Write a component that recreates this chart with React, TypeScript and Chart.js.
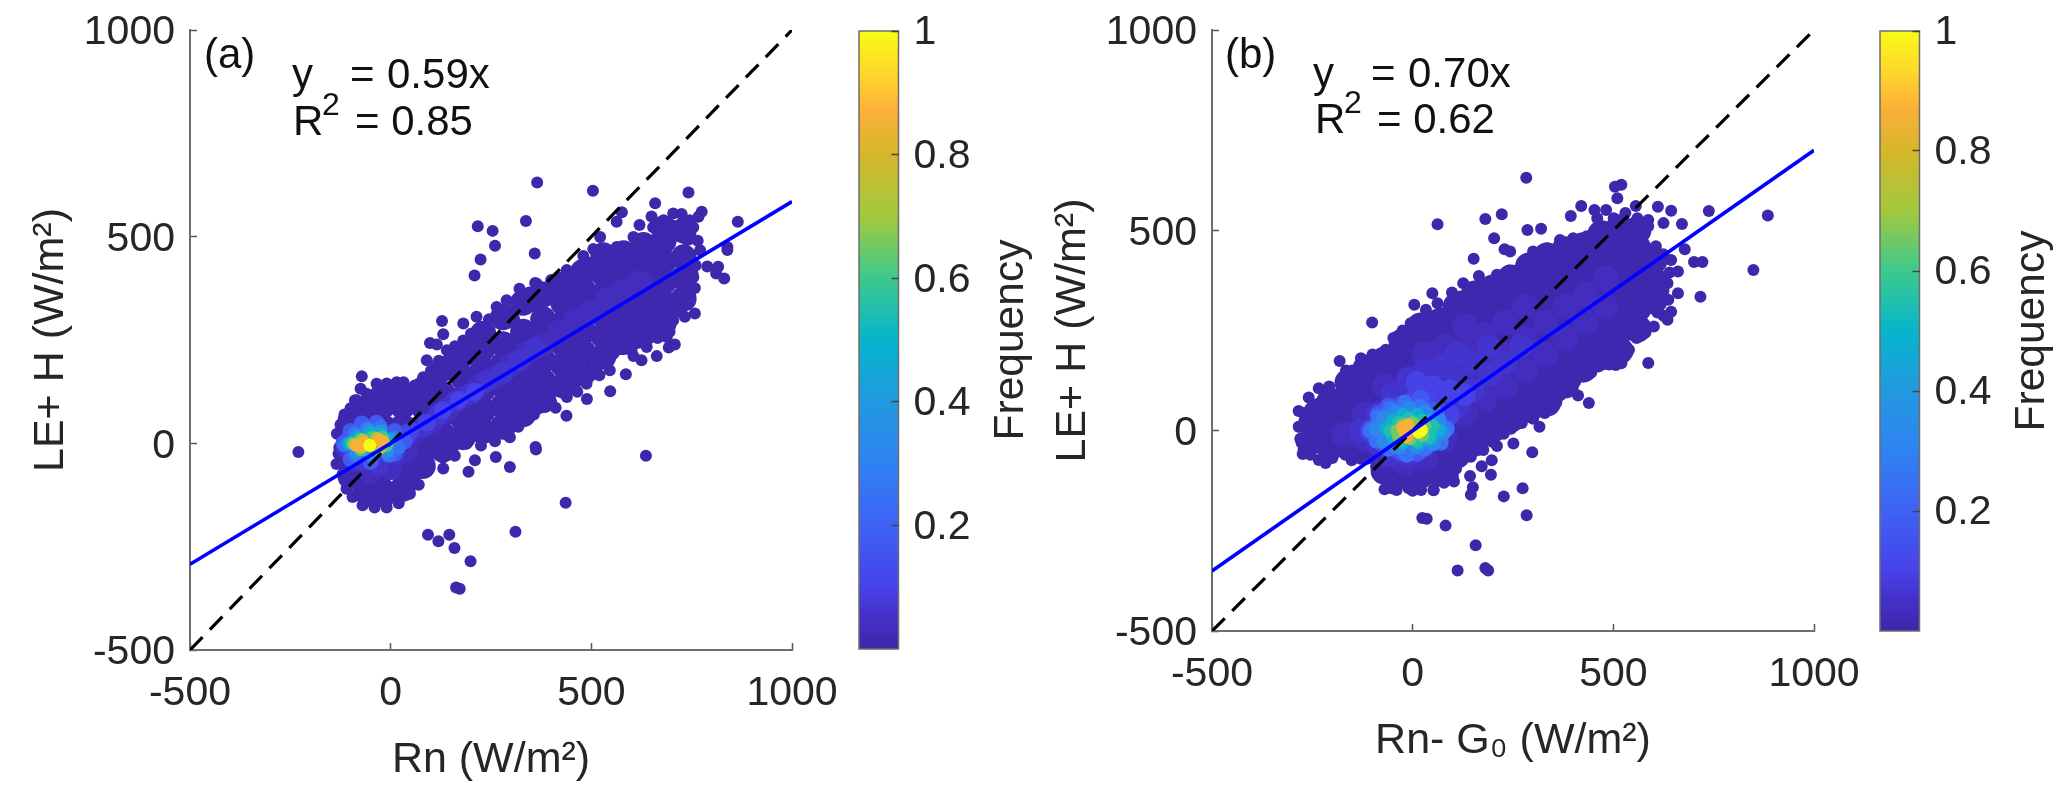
import React, { useEffect, useRef } from "react";
import { Chart, registerables } from "chart.js";
Chart.register(...registerables);

type P = [number, number];

const axisTicks = [-500, 0, 500, 1000];
const colorbarTicks = [0.2, 0.4, 0.6, 0.8, 1];
const lineEnds = [-500, 1000];
const slopeA = 0.585;
const slopeB = 0.7;

const parulaStops: [number, string][] = [
  [0, "#3e26a8"], [0.05, "#4330c8"], [0.1, "#4742e8"], [0.2, "#3f62f5"], [0.3, "#2f82f2"],
  [0.4, "#2299e0"], [0.5, "#06b5cc"], [0.6, "#3dc98c"], [0.7, "#a2c93e"], [0.8, "#d6b62a"],
  [0.87, "#fbb03a"], [0.93, "#fed62c"], [1, "#f9fb15"],
];

// ---- panel (a) ----
const outliersA: P[] = [
  [365,631],[504,611],[742,607],[217,525],[254,514],[337,538],[260,478],[224,445],[209,406],[359,459],
  [659,581],[865,536],[839,475],[839,468],[775,560],[767,548],[576,559],[563,536],[620,528],[650,549],
  [480,453],[439,419],[360,388],[321,374],[128,296],[181,290],[131,264],[98,243],[115,239],[733,306],
  [758,314],[708,239],[693,232],[663,211],[605,211],[625,201],[586,167],[547,126],[489,107],[438,67],
  [411,86],[384,88],[357,70],[816,427],[789,428],[811,411],[831,399],[758,376],[361,-9],[636,-30],
  [-230,-21],[-72,162],[-75,132],[-89,104],[362,-15],[262,-33],[297,-57],[210,-41],[194,-69],[131,-61],
  [93,-221],[119,-237],[146,-221],[159,-253],[199,-285],[163,-349],[172,-352],[311,-214],[436,-144],
];
const edgeA: P[] = [
  [-134,23],[-128,-10],[-125,45],[-115,70],[-100,85],[-85,104],[-60,120],[-35,144],[-10,145],[15,148],
  [32,148],[60,140],[81,160],[90,201],[100,175],[120,200],[140,225],[160,235],[181,249],[200,265],
  [214,306],[225,280],[245,300],[264,330],[289,346],[300,320],[322,350],[345,365],[364,386],[400,395],
  [439,419],[460,410],[480,430],[505,470],[522,499],[540,460],[563,475],[585,450],[605,499],[612,470],
  [630,490],[654,523],[680,540],[704,556],[725,555],[745,540],[754,523],[765,490],[771,467],[760,430],
  [754,402],[748,370],[738,338],[720,320],[704,298],[695,270],[688,257],[665,255],[638,233],[600,225],
  [555,217],[546,177],[520,165],[488,144],[465,125],[439,112],[400,100],[370,85],[339,64],[318,40],
  [297,15],[260,5],[225,-5],[189,-1],[160,-30],[130,-35],[98,-25],[85,-60],[70,-100],[48,-122],
  [20,-145],[-10,-155],[-40,-155],[-70,-150],[-95,-130],[-110,-110],[-120,-75],[-135,-50],[-130,-25],
];
const bodyA: P[] = [
  [-100,-80],[-100,-30],[-100,20],[-100,55],[-60,-110],[-60,-60],[-60,-10],[-60,40],[-60,85],
  [-20,-115],[-20,-60],[-20,-10],[-20,40],[-20,90],[-20,115],[30,-110],[30,-60],[30,-10],[30,40],[30,90],[30,118],
  [80,-55],[80,-10],[80,40],[80,90],[80,130],[130,-15],[130,20],[130,70],[130,120],[130,180],
  [180,15],[180,60],[180,110],[180,160],[180,215],[230,30],[230,80],[230,130],[230,180],[230,230],[230,265],
  [280,40],[280,90],[280,140],[280,190],[280,240],[280,305],[330,70],[330,120],[330,170],[330,220],[330,270],[330,340],
  [380,105],[380,150],[380,200],[380,250],[380,300],[380,360],[430,140],[430,190],[430,240],[430,290],[430,340],[430,385],
  [480,170],[480,220],[480,270],[480,320],[480,370],[480,415],[530,210],[530,260],[530,310],[530,360],[530,410],[530,455],
  [580,245],[580,290],[580,340],[580,390],[580,440],[580,460],[630,265],[630,310],[630,360],[630,410],[630,460],[630,480],
  [680,290],[680,340],[680,390],[680,440],[680,490],[680,520],[730,350],[730,400],[730,450],[730,515],
];
const fillA: P[] = [
  [60,-70],[100,-10],[120,0],[150,-5],[175,20],[205,25],[250,30],[275,35],[310,60],[345,85],[385,115],[415,135],
  [455,150],[505,175],[525,200],[570,235],[615,250],[655,270],[690,290],[710,325],[735,365],[745,410],
  [105,150],[150,200],[205,240],[240,270],[300,300],[350,340],[410,375],[455,390],[500,430],[550,440],[590,440],
  [640,480],[700,520],[740,500],[-75,-120],[-45,-135],[-15,-135],[20,-125],[50,-90],[-110,-50],
];
const a04: P[] = [[-90,-40],[-50,-70],[0,-60],[40,-20],[60,30],[100,50],[140,80],[180,110],[220,140],[260,160],[300,190],[340,220],[380,240],[420,270],[460,300],[500,320],[540,350],[580,370],[620,390]];
const a07: P[] = [[-110,-10],[-70,-40],[-30,-50],[10,-25],[40,20],[80,40],[120,70],[160,100],[200,120],[240,150],[280,170],[320,200],[360,230]];
const a12: P[] = [[-105,10],[-90,-25],[-50,-35],[-15,-20],[15,5],[50,30],[90,50],[130,80],[170,105],[210,125]];
const a18: P[] = [[-118,0],[-100,30],[-72,48],[-35,50],[10,30],[35,5],[10,-25],[-50,-45],[-100,-38]];
const a25: P[] = [[-115,-5],[-90,25],[-60,38],[-25,40],[10,15],[20,-10],[-5,-30],[-50,-30],[-90,-30]];
const a35: P[] = [[-105,0],[-85,18],[-55,32],[-25,30],[0,10],[-10,-20],[-50,-22],[-85,-22]];
const a45: P[] = [[-100,0],[-80,12],[-50,25],[-25,22],[-5,5],[-30,-15],[-70,-15]];
const a55: P[] = [[-95,0],[-75,10],[-45,15],[-20,15],[-10,-5],[-30,-15],[-75,-15]];
const a70: P[] = [[-90,-2],[-70,8],[-35,12],[-20,5],[-75,-10],[-25,-10]];
const a85: P[] = [[-85,-5],[-72,-8],[-28,8],[-20,3],[-65,2]];
const a100: P[] = [[-52,-5]];

// ---- panel (b) ----
const outliersB: P[] = [
  [283,631],[504,609],[520,614],[510,580],[62,515],[181,528],[222,540],[203,480],[286,501],[320,504],
  [229,453],[243,447],[152,429],[-101,270],[4,314],[49,343],[62,318],[98,345],[126,368],[165,386],
  [-182,174],[-166,150],[-234,106],[-208,110],[-259,83],[-249,64],[-284,49],[-284,10],[-277,-30],[-274,-58],
  [-217,-81],[-152,-74],[-70,-146],[-40,-148],[-10,-144],[21,-148],[52,-149],[103,-127],[143,-113],[172,-89],
  [195,-110],[197,-74],[150,-141],[145,-160],[227,-164],[274,-144],[284,-211],[24,-218],[35,-220],[82,-237],
  [157,-286],[112,-349],[181,-343],[188,-349],[298,-54],[251,-32],[210,-38],[227,-8],[316,10],[412,88],
  [439,69],[367,88],[358,71],[587,169],[539,202],[506,164],[644,297],[625,287],[635,277],[717,334],
  [637,327],[661,343],[661,397],[701,421],[722,421],[849,401],[885,537],[738,548],[678,453],[671,516],
  [644,549],[611,559],[625,518],[587,526],[556,561],[482,551],[453,551],[460,530],[420,561],[394,536],
];
const edgeB: P[] = [
  [-234,68],[-200,90],[-168,119],[-150,150],[-129,181],[-100,190],[-67,202],[-48,231],[-25,250],[-5,268],
  [33,302],[71,293],[95,320],[119,335],[145,340],[167,352],[190,370],[210,389],[240,400],[272,414],
  [300,447],[335,455],[367,476],[400,480],[434,485],[463,505],[501,530],[530,543],[560,530],[587,510],
  [606,460],[625,440],[644,426],[640,395],[635,368],[625,350],[616,335],[610,295],[601,260],[580,245],
  [558,231],[535,195],[520,168],[490,165],[463,160],[445,145],[425,135],[405,122],[386,110],[355,75],
  [329,44],[300,30],[272,19],[245,5],[224,-6],[200,-28],[176,-48],[145,-65],[119,-77],[108,-95],
  [100,-114],[78,-130],[52,-148],[0,-150],[-53,-144],[-72,-115],[-91,-89],[-130,-70],[-168,-60],[-200,-68],
  [-234,-73],[-255,-60],[-272,-48],[-280,-20],[-282,10],[-272,44],[-255,55],
];
const bodyB: P[] = [
  [-250,-25],[-250,20],[-205,-40],[-205,5],[-205,50],[-205,72],[-160,-35],[-160,15],[-160,65],[-160,120],
  [-115,-50],[-115,0],[-115,50],[-115,100],[-115,155],[-70,-100],[-70,-50],[-70,0],[-70,50],[-70,100],[-70,150],[-70,175],
  [-25,-110],[-25,-60],[-25,-10],[-25,40],[-25,90],[-25,140],[-25,190],[-25,220],[20,-110],[20,-60],[20,-10],[20,40],[20,90],[20,140],[20,190],[20,240],[20,260],
  [65,-105],[65,-50],[65,0],[65,50],[65,100],[65,150],[65,200],[65,250],[65,270],[110,-60],[110,-10],[110,40],[110,90],[110,140],[110,190],[110,240],[110,290],[110,310],
  [155,-30],[155,20],[155,70],[155,120],[155,170],[155,220],[155,270],[155,320],[155,340],[200,5],[200,55],[200,105],[200,155],[200,205],[200,255],[200,305],[200,355],
  [245,30],[245,80],[245,130],[245,180],[245,230],[245,280],[245,330],[245,380],[290,55],[290,105],[290,155],[290,205],[290,255],[290,305],[290,355],[290,410],
  [335,70],[335,120],[335,170],[335,220],[335,270],[335,320],[335,370],[335,435],[380,115],[380,165],[380,215],[380,265],[380,315],[380,365],[380,415],[380,450],
  [425,155],[425,205],[425,255],[425,305],[425,355],[425,405],[425,460],[470,185],[470,235],[470,285],[470,335],[470,385],[470,435],[470,490],
  [515,200],[515,250],[515,300],[515,350],[515,400],[515,450],[515,505],[560,255],[560,305],[560,355],[560,405],[560,455],[560,500],[600,325],[600,375],[600,425],
];
const b04: P[] = [[-170,-10],[-120,-20],[-120,40],[-70,-60],[-70,50],[-70,110],[-20,-80],[-20,30],[-20,110],[30,-70],[30,50],[30,130],[30,190],[80,-20],[80,60],[80,140],[80,210],[130,40],[130,120],[130,200],[130,260],[180,80],[180,160],[180,240],[230,110],[230,190],[230,270],[280,150],[280,230],[280,310],[330,190],[330,270],[380,230],[380,310],[430,270],[430,340],[480,310],[480,380]];
const b07: P[] = [[-130,0],[-90,-30],[-90,40],[-50,-60],[-50,30],[-50,90],[-10,-60],[-10,70],[-10,130],[30,-40],[30,80],[30,150],[70,0],[70,90],[70,160],[110,60],[110,130],[110,190],[150,100],[150,170],[190,140],[190,210],[230,170],[270,210]];
const b12: P[] = [[-105,0],[-80,40],[-70,-30],[-30,-50],[-30,60],[10,-50],[10,80],[10,120],[50,-20],[50,60],[50,110],[90,40],[90,100],[130,90]];
const b18: P[] = [[-100,5],[-85,40],[-60,60],[-70,-30],[-30,-50],[10,-55],[50,-30],[70,10],[50,50],[20,80]];
const b25: P[] = [[-105,0],[-85,35],[-55,55],[-20,70],[20,60],[60,40],[85,5],[70,-30],[30,-45],[-15,-60],[-60,-45],[-90,-25]];
const b35: P[] = [[-90,5],[-70,30],[-45,45],[-10,55],[30,45],[65,25],[75,-5],[50,-30],[10,-40],[-35,-40],[-70,-25]];
const b45: P[] = [[-65,5],[-50,25],[-25,40],[10,40],[45,25],[65,0],[45,-20],[15,-30],[-25,-30],[-50,-15]];
const b55: P[] = [[-55,0],[-35,20],[-10,30],[25,25],[50,10],[40,-15],[10,-25],[-30,-25]];
const b70: P[] = [[-40,0],[-25,15],[0,20],[30,12],[-5,-20],[-35,-15],[25,-12]];
const b85: P[] = [[-25,8],[-20,-3],[-15,-16],[-12,15]];
const b100: P[] = [[15,-4],[22,2]];

const FONT = '"Liberation Sans", Arial, sans-serif';
const TICK_COLOR = "#262626";
const AXIS_COLOR = "#6e6e6e";

function hex(c: string) { return [1, 3, 5].map((i) => parseInt(c.slice(i, i + 2), 16)); }
function parula(f: number) {
  for (let i = 1; i < parulaStops.length; i++) {
    const [f1, c1] = parulaStops[i];
    if (f <= f1) {
      const [f0, c0] = parulaStops[i - 1];
      const t = (f - f0) / (f1 - f0);
      const a = hex(c0), b = hex(c1);
      return `rgb(${a.map((v, k) => Math.round(v + (b[k] - v) * t)).join(",")})`;
    }
  }
  return parulaStops[parulaStops.length - 1][1];
}

type Txt = { s: string; x: number; y: number; size?: number; ws?: number };

function layer(points: P[], f: number, radius: number, order: number) {
  return {
    type: "scatter" as const,
    data: points.map(([x, y]) => ({ x, y })),
    backgroundColor: parula(f),
    borderWidth: 0,
    pointRadius: radius,
    pointHoverRadius: radius,
    order,
  };
}

function lineSet(slope: number, color: string, width: number, dash: number[], order: number) {
  return {
    type: "line" as const,
    data: lineEnds.map((x) => ({ x, y: slope * x })),
    borderColor: color,
    borderWidth: width,
    borderDash: dash,
    pointRadius: 0,
    order,
  };
}

function makeMain(canvas: HTMLCanvasElement, layers: any[], slope: number, xTitle: string, axisHeight: number, titlePad: number, texts: Txt[]) {
  return new Chart(canvas, {
    type: "scatter",
    data: {
      datasets: [
        ...layers,
        lineSet(1, "#000000", 3.2, [18, 10.5], 1),
        lineSet(slope, "#0000ff", 3.6, [], 0),
      ],
    },
    options: {
      animation: false,
      responsive: false,
      devicePixelRatio: 1,
      layout: { padding: { left: 0, top: 30, right: 58, bottom: 0 } },
      plugins: { legend: { display: false }, tooltip: { enabled: false } },
      scales: {
        x: {
          type: "linear",
          min: -500,
          max: 1000,
          afterBuildTicks: (a: any) => { a.ticks = axisTicks.map((value) => ({ value })); },
          afterFit: (a: any) => { a.height = axisHeight; a.paddingLeft = 0; a.paddingRight = 0; },
          border: { color: AXIS_COLOR, width: 2 },
          grid: { drawOnChartArea: false, drawTicks: true, tickLength: -7, tickColor: "#555555", tickWidth: 1.5 },
          ticks: { color: TICK_COLOR, font: { family: FONT, size: 41 }, padding: 26, maxRotation: 0, autoSkip: false, callback: (v: any) => String(v) },
          title: { display: true, text: xTitle, color: TICK_COLOR, font: { family: FONT, size: 43 }, padding: titlePad },
        },
        y: {
          type: "linear",
          min: -500,
          max: 1000,
          afterBuildTicks: (a: any) => { a.ticks = axisTicks.map((value) => ({ value })); },
          afterFit: (a: any) => { a.width = 190; a.paddingTop = 0; a.paddingBottom = 0; },
          border: { color: AXIS_COLOR, width: 2 },
          grid: { drawOnChartArea: false, drawTicks: true, tickLength: -7, tickColor: "#555555", tickWidth: 1.5 },
          ticks: { color: TICK_COLOR, font: { family: FONT, size: 41 }, padding: 22, labelOffset: 3, autoSkip: false, callback: (v: any) => String(v) },
          title: { display: true, text: "LE+ H (W/m²)", color: TICK_COLOR, font: { family: FONT, size: 43 }, padding: 25 },
        },
      },
    },
    plugins: [{
      id: "notes",
      afterDraw(chart: any) {
        const ctx = chart.ctx;
        ctx.save();
        ctx.fillStyle = "#111111";
        ctx.textBaseline = "alphabetic";
        ctx.textAlign = "left";
        texts.forEach((t) => {
          ctx.font = `${t.size ?? 42}px ${FONT}`;
          (ctx as any).wordSpacing = `${t.ws ?? 0}px`;
          ctx.fillText(t.s, t.x, t.y);
        });
        ctx.restore();
      },
    }],
  } as any);
}

function makeBar(canvas: HTMLCanvasElement, bottomPad: number, height: number) {
  return new Chart(canvas, {
    type: "scatter",
    data: { datasets: [{ data: [] }] },
    options: {
      animation: false,
      responsive: false,
      devicePixelRatio: 1,
      layout: { padding: { left: 19, top: 31, right: 0, bottom: bottomPad } },
      plugins: { legend: { display: false }, tooltip: { enabled: false } },
      scales: {
        x: { display: false },
        y: {
          type: "linear",
          position: "right",
          min: 0,
          max: 1,
          afterBuildTicks: (a: any) => { a.ticks = colorbarTicks.map((value) => ({ value })); },
          afterFit: (a: any) => { a.width = canvas.width - 58.5; a.paddingTop = 0; a.paddingBottom = 0; },
          border: { display: false },
          grid: { drawOnChartArea: false, drawTicks: true, tickLength: -7, tickColor: "#444444", tickWidth: 1.5 },
          ticks: { color: TICK_COLOR, font: { family: FONT, size: 41 }, padding: 22, labelOffset: 2, autoSkip: false, callback: (v: any) => String(v) },
        },
      },
    },
    plugins: [{
      id: "bar",
      beforeDraw(chart: any) {
        const { left, right, top, bottom } = chart.chartArea;
        const ctx = chart.ctx;
        const g = ctx.createLinearGradient(0, bottom, 0, top);
        parulaStops.forEach(([f, c]) => g.addColorStop(f, c));
        ctx.save();
        ctx.fillStyle = g;
        ctx.fillRect(left, top, right - left, bottom - top);
        ctx.strokeStyle = AXIS_COLOR;
        ctx.lineWidth = 1.5;
        ctx.strokeRect(left, top, right - left, bottom - top);
        ctx.restore();
      },
      afterDraw(chart: any) {
        const ctx = chart.ctx;
        ctx.save();
        ctx.translate(183, (31 + height) / 2);
        ctx.rotate(-Math.PI / 2);
        ctx.fillStyle = TICK_COLOR;
        ctx.textAlign = "center";
        ctx.textBaseline = "alphabetic";
        ctx.font = `42.5px ${FONT}`;
        ctx.fillText("Frequency", 0, 0);
        ctx.restore();
      },
    }],
  } as any);
}

const abs = (left: number, width: number): React.CSSProperties => ({ position: "absolute", left, top: 0, width, height: 803, display: "block" });

export default function App() {
  const a = useRef<HTMLCanvasElement>(null);
  const b = useRef<HTMLCanvasElement>(null);
  const ca = useRef<HTMLCanvasElement>(null);
  const cb = useRef<HTMLCanvasElement>(null);
  useEffect(() => {
    const layersA = [
      layer(bodyA, 0.012, 13, 30), layer(fillA, 0.01, 9, 31), layer(edgeA, 0.01, 6, 32), layer(outliersA, 0.005, 6, 33),
      layer(a04, 0.035, 12, 29), layer(a07, 0.06, 11, 28), layer(a12, 0.1, 9, 27), layer(a18, 0.17, 8, 26),
      layer(a25, 0.25, 7, 25), layer(a35, 0.35, 7, 24), layer(a45, 0.47, 7, 23), layer(a55, 0.6, 6.5, 22),
      layer(a70, 0.72, 6.5, 21), layer(a85, 0.86, 6.5, 20), layer(a100, 1, 6.5, 19),
    ];
    const layersB = [
      layer(bodyB, 0.012, 14, 30), layer(edgeB, 0.01, 6, 31), layer(outliersB, 0.005, 6, 32),
      layer(b04, 0.035, 13, 29), layer(b07, 0.06, 12, 28), layer(b12, 0.1, 11, 27), layer(b18, 0.17, 9, 26),
      layer(b25, 0.25, 8, 25), layer(b35, 0.33, 8, 24), layer(b45, 0.47, 7, 23), layer(b55, 0.55, 7, 22),
      layer(b70, 0.65, 6.5, 21), layer(b85, 0.86, 6.5, 20), layer(b100, 1, 6.5, 19),
    ];
    const charts = [
      makeMain(a.current!, layersA, slopeA, "Rn (W/m²)", 153, 17, [
        { s: "(a)", x: 204, y: 68 },
        { s: "y   = 0.59x", x: 292, y: 88, ws: 0.7 },
        { s: "R", x: 293, y: 135 },
        { s: "2", x: 322, y: 115, size: 32 },
        { s: "= 0.85", x: 355, y: 135 },
      ]),
      makeMain(b.current!, layersB, slopeB, "Rn- G₀ (W/m²)", 172, 36, [
        { s: "(b)", x: 203, y: 68 },
        { s: "y   = 0.70x", x: 291, y: 87, ws: 0.7 },
        { s: "R", x: 293, y: 133 },
        { s: "2", x: 322, y: 113, size: 32 },
        { s: "= 0.62", x: 355, y: 133 },
      ]),
      makeBar(ca.current!, 154, 649),
      makeBar(cb.current!, 172, 631),
    ];
    return () => charts.forEach((c) => c.destroy());
  }, []);
  return (
    <div style={{ position: "absolute", left: 0, top: 0, width: 2067, height: 803, overflow: "hidden", background: "#fff" }}>
      <canvas ref={a} width={850} height={803} style={abs(0, 850)} />
      <canvas ref={b} width={850} height={803} style={abs(1022, 850)} />
      <canvas ref={ca} width={200} height={803} style={abs(840, 200)} />
      <canvas ref={cb} width={206} height={803} style={abs(1861, 206)} />
    </div>
  );
}
